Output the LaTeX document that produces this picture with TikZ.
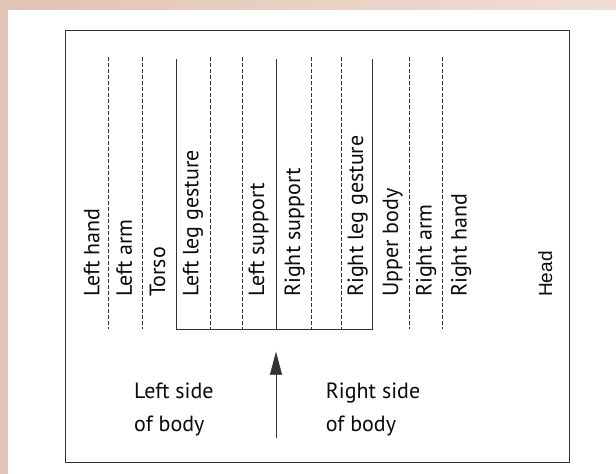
\documentclass[tikz,border=0pt]{standalone}
\usepackage{fontspec}
\setmainfont{PT Sans}
\newfontfamily\headfont{Liberation Sans}
\usetikzlibrary{positioning, arrows.meta}

\definecolor{bandleft}{RGB}{226,195,181}
\definecolor{bandright}{RGB}{240,222,213}
\definecolor{framegray}{RGB}{50,50,50}
\definecolor{inkgray}{RGB}{10,10,10}

\tikzset{
  lane/.style={draw=framegray, line width=0.9pt},
  dashlane/.style={lane, dash pattern=on 4pt off 2pt},
  part/.style={rotate=90, anchor=base west, inner sep=0pt, text=inkgray,
    font=\fontsize{22}{26}\selectfont},
  side/.style={anchor=base west, inner sep=0pt, text=inkgray,
    font=\fontsize{22}{26}\selectfont}
}

\begin{document}
\begin{tikzpicture}[x=1pt, y=-1pt]
    \useasboundingbox (0,0) rectangle (616,474);
    \shade[left color=bandleft, right color=bandright] (0,0) rectangle (616,10);
    \fill[bandleft] (0,10) rectangle (8,474);
    \fill[white] (8,10) rectangle (616,474);
    \draw[framegray, line width=1.3pt] (65.5,30.3) rectangle (569.6,462.3);

    % lanes
    \foreach \x in {108.3, 142.7, 210.7, 242.7, 311, 341.7, 409.3, 442.7}
        \draw[dashlane] (\x,57.3) -- (\x,329);
    \draw[lane] (176,59.3) |- (372.7,329) -- (372.7,59.3);
    \draw[lane] (276,59.3) -- (276,329);

    % body parts
    \node[part] (lhand) at (99.3,297) {Left hand};
    \node[part] (larm) at (131.8,297) {Left arm};
    \node[part] (torso) at (165,297) {Torso};
    \node[part] (llegg) at (198.3,297) {Left leg gesture};
    \node[part] (lsupp) at (264,297) {Left support};
    \node[part] (rsupp) at (300,297) {Right support};
    \node[part] (rlegg) at (363,297) {Right leg gesture};
    \node[part] (upper) at (398,297) {Upper body};
    \node[part] (rarm) at (431.5,297) {Right arm};
    \node[part] (rhand) at (466.5,297) {Right hand};
    \node[part, font=\headfont\fontsize{19}{22}\selectfont] (head) at (552,297) {Head};

    % sides
    \node[side] (lside) at (134,398.3) {Left side};
    \node[side, below=33pt of lside.base west, anchor=base west] (lbody) {of body};
    \node[side] (rside) at (325.7,398.3) {Right side};
    \node[side, below=33pt of rside.base west, anchor=base west] (rbody) {of body};

    \coordinate (foot) at (276,438.3);
    \coordinate (tip) at (276,351.7);
    \draw[lane, -{Triangle[length=23pt, width=12pt]}] (foot) -- (tip);
\end{tikzpicture}
\end{document}
